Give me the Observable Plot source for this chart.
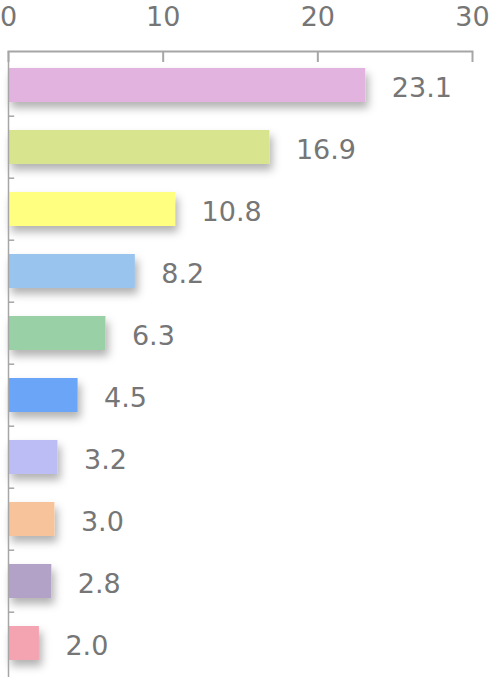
<!DOCTYPE html>
<html>
<head>
<meta charset="utf-8">
<script src="https://cdn.jsdelivr.net/npm/d3@7"></script>
<script src="https://cdn.jsdelivr.net/npm/@observablehq/plot@0.6"></script>
<style>
  html, body { margin: 0; padding: 0; background: #fff; }
</style>
</head>
<body>
<div id="chart"></div>
<script>
const categories = ["A", "B", "C", "D", "E", "F", "G", "H", "I", "J"];
const values = [23.1, 16.9, 10.8, 8.2, 6.3, 4.5, 3.2, 3.0, 2.8, 2.0];
const colors = ["#E3B3E0", "#D9E58E", "#FFFF80", "#99C4EE", "#99D0A5", "#6AA5F8", "#BDBDF5", "#F7C39A", "#B3A2C8", "#F4A4B0"];
const xTicks = [0, 10, 20, 30];

const data = categories.map((c, i) => ({category: c, value: values[i], color: colors[i]}));

const W = 491, H = 677, mTop = 51, mLeft = 8, mRight = 19;
const step = (H - mTop) / categories.length;
const axisColor = "#a6a6a6";
const textColor = "#767676";

const plot = Plot.plot({
  width: W,
  height: H,
  marginTop: mTop,
  marginBottom: 0,
  marginLeft: mLeft,
  marginRight: mRight,
  style: {fontFamily: "'DejaVu Sans', Verdana, sans-serif", background: "#fff", overflow: "visible"},
  x: {domain: [0, 30], axis: null, label: null},
  y: {domain: categories, padding: 0, axis: null, label: null},
  marks: [
    Plot.barX(data, {y: "category", x: "value", fill: "color", insetTop: 14, insetBottom: 14, className: "bars"}),
    Plot.ruleY(categories.slice(1), {y: d => d, x1: 0, x2: 0.4, dy: -step / 2, stroke: axisColor, strokeWidth: 1.5}),
    Plot.ruleX([0], {stroke: axisColor, strokeWidth: 1.5}),
    Plot.axisX({anchor: "top", ticks: xTicks, tickSize: -10, tickFormat: () => "", label: null, stroke: axisColor, strokeWidth: 2}),
    Plot.axisX({anchor: "top", ticks: xTicks, tickSize: 0, tickPadding: 26, fontSize: 27, fill: textColor, label: null, tickFormat: d => d}),
    Plot.frame({anchor: "top", stroke: axisColor, strokeWidth: 2}),
    Plot.text(data, {y: "category", x: "value", text: d => d.value.toFixed(1), textAnchor: "start", dx: 26, dy: 3, fontSize: 27, fill: textColor})
  ]
});

// drop shadow for bars
const ns = "http://www.w3.org/2000/svg";
const defs = document.createElementNS(ns, "defs");
defs.innerHTML = `<filter id="shadow" x="-20%" y="-60%" width="150%" height="250%">
  <feDropShadow dx="3" dy="6" stdDeviation="4" flood-color="#000" flood-opacity="0.3"/>
</filter>`;
plot.insertBefore(defs, plot.firstChild);
const bars = plot.querySelector("g.bars") || plot.querySelector("g[aria-label='bar']");
if (bars) bars.setAttribute("filter", "url(#shadow)");

document.getElementById("chart").appendChild(plot);
</script>
</body>
</html>
